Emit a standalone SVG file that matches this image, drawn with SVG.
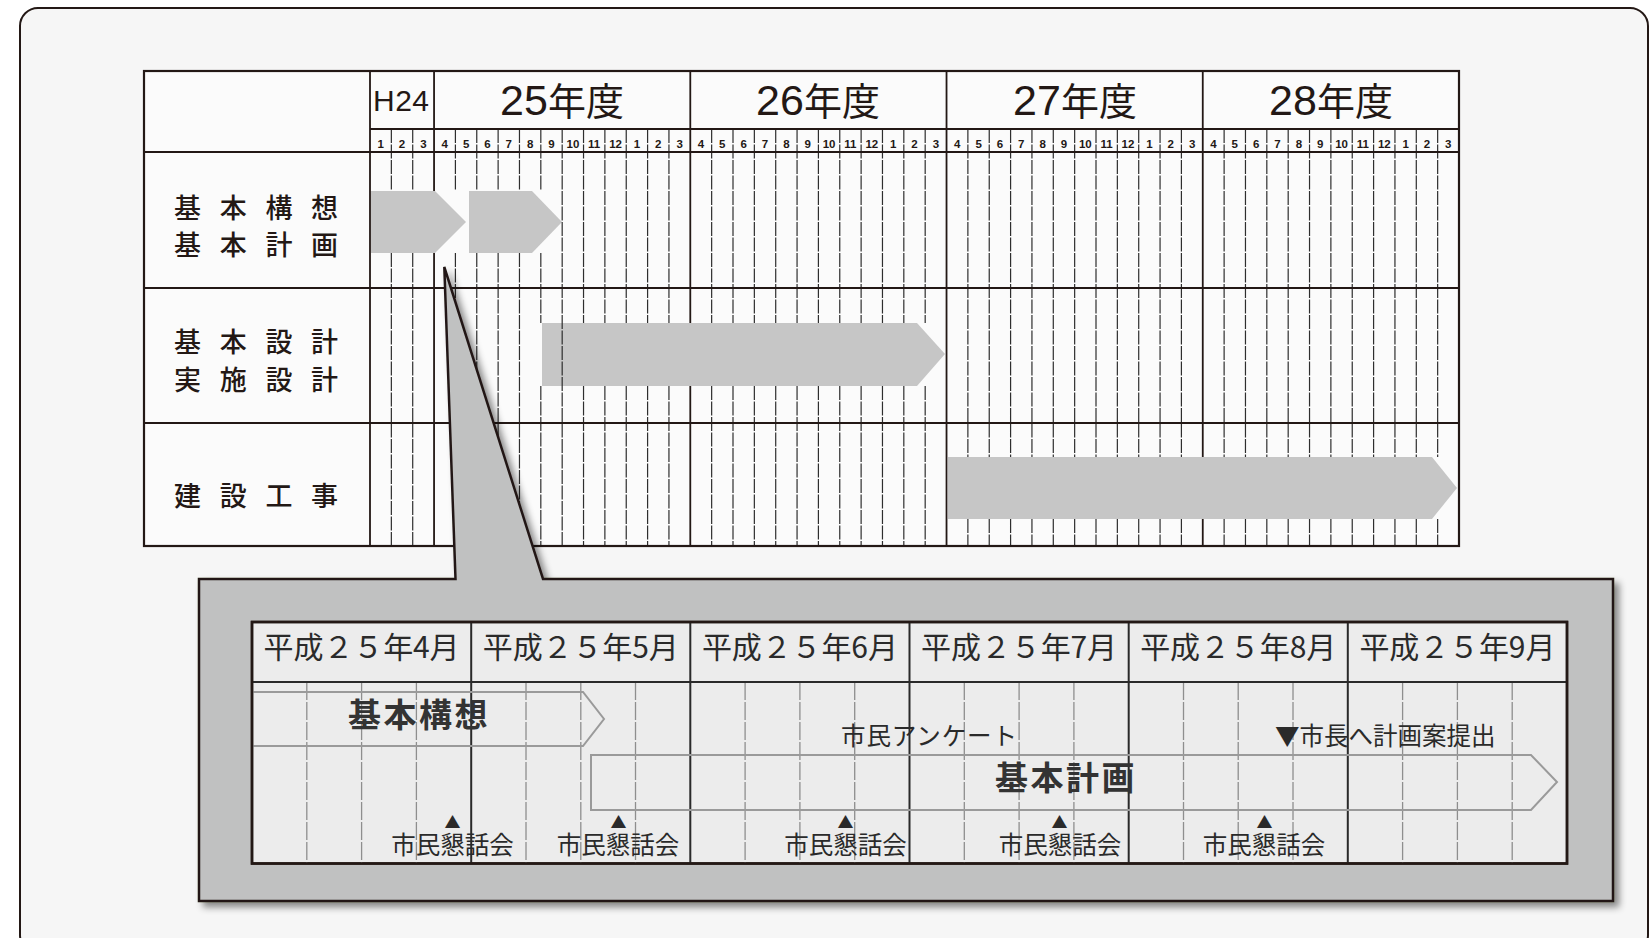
<svg xmlns="http://www.w3.org/2000/svg" width="1649" height="938" viewBox="0 0 1649 938">
<defs>
<style>
.frame{fill:#f6f6f6;stroke:#231815;stroke-width:2}
.tbl{fill:#fbfbfb;stroke:#231815;stroke-width:2}
.hl{stroke:#231815;stroke-width:1.8;fill:none}
.ml{stroke:#2e2e2e;stroke-width:1.2;fill:none;stroke-dasharray:14 1.5}
.yl{stroke:#231815;stroke-width:1.8;fill:none}
.bar{fill:#c6c6c6;stroke:none}
.mn{font-family:"Liberation Sans",sans-serif;font-weight:bold;font-size:11.5px;fill:#231815;text-anchor:middle}
.yr{font-family:"Liberation Sans","Noto Sans CJK JP",sans-serif;font-size:43px;fill:#231815;text-anchor:middle}
.yk{font-family:"Noto Sans CJK JP",sans-serif;font-size:38px}
.rl{font-family:"Noto Sans CJK JP",sans-serif;font-size:27px;font-weight:500;letter-spacing:18.7px;fill:#231815}
.panel{fill:#c0c1c1;stroke:#231815;stroke-width:2.5;stroke-linejoin:miter}
.itbl{fill:#ececec;stroke:#231815;stroke-width:2.5}
.wk{stroke:#8e8e8e;stroke-width:1.3;fill:none;stroke-dasharray:18 2}
.mb{stroke:#2a2a2a;stroke-width:2;fill:none}
.ibar{fill:none;stroke:#9a9a9a;stroke-width:2}
.hd{font-family:"Noto Sans CJK JP",sans-serif;font-size:30px;fill:#2a2a2a;text-anchor:middle}
.bl{font-family:"Noto Sans CJK JP",sans-serif;font-size:33px;font-weight:bold;letter-spacing:2.5px;fill:#333}
.sm{font-family:"Noto Sans CJK JP",sans-serif;font-size:24.5px;fill:#2a2a2a}
.kd{font-family:"Noto Sans CJK JP",sans-serif;font-size:24.5px;fill:#2a2a2a;text-anchor:middle}
.tri{font-size:16px}
</style>
<filter id="sh" x="-5%" y="-10%" width="110%" height="125%">
<feDropShadow dx="5" dy="5" stdDeviation="3.5" flood-color="#000" flood-opacity="0.45"/>
</filter>
</defs>

<rect class="frame" x="20" y="8" width="1628" height="945" rx="18"/>

<g id="schedule-table">
<rect class="tbl" x="144" y="71" width="1315" height="475"/>
<g id="bar-kihon-kousou"><polygon class="bar" points="371,191 435,191 466,222 435,253 371,253"/></g>
<g id="bar-kihon-keikaku"><polygon class="bar" points="469,191 532,191 562,222 532,253 469,253"/></g>
<g id="bar-sekkei"><polygon class="bar" points="542,323 917,323 945,354 917,386 542,386"/></g>
<g id="bar-kouji"><polygon class="bar" points="948,457 1432,457 1457,488 1432,519 948,519"/></g>
<path class="ml" d="M391.35,129V191 M412.71,129V191 M391.35,253V546 M412.71,253V546 M455.41,129V191 M455.41,253V546 M476.76,129V191 M476.76,253V546 M498.12,129V191 M498.12,253V546 M519.47,129V191 M519.47,253V546 M540.82,129V191 M540.82,253V323 M540.82,386V546 M562.18,129V546 M583.53,129V323 M583.53,386V546 M604.88,129V323 M604.88,386V546 M626.24,129V323 M626.24,386V546 M647.59,129V323 M647.59,386V546 M668.94,129V323 M668.94,386V546 M711.65,129V323 M711.65,386V546 M733,129V323 M733,386V546 M754.35,129V323 M754.35,386V546 M775.71,129V323 M775.71,386V546 M797.06,129V323 M797.06,386V546 M818.41,129V323 M818.41,386V546 M839.76,129V323 M839.76,386V546 M861.12,129V323 M861.12,386V546 M882.47,129V323 M882.47,386V546 M903.82,129V323 M903.82,386V546 M925.18,129V323 M925.18,386V546 M967.88,129V457 M967.88,519V546 M989.24,129V457 M989.24,519V546 M1010.59,129V457 M1010.59,519V546 M1031.94,129V457 M1031.94,519V546 M1053.29,129V457 M1053.29,519V546 M1074.65,129V457 M1074.65,519V546 M1096,129V457 M1096,519V546 M1117.35,129V457 M1117.35,519V546 M1138.71,129V457 M1138.71,519V546 M1160.06,129V457 M1160.06,519V546 M1181.41,129V457 M1181.41,519V546 M1224.12,129V457 M1224.12,519V546 M1245.47,129V457 M1245.47,519V546 M1266.82,129V457 M1266.82,519V546 M1288.18,129V457 M1288.18,519V546 M1309.53,129V457 M1309.53,519V546 M1330.88,129V457 M1330.88,519V546 M1352.24,129V457 M1352.24,519V546 M1373.59,129V457 M1373.59,519V546 M1394.94,129V457 M1394.94,519V546 M1416.29,129V457 M1416.29,519V546 M1437.65,129V457 M1437.65,519V546"/>
<path class="yl" d="M434.06,71V191 M434.06,253V546 M690.29,71V323 M690.29,386V546 M946.53,71V546 M1202.76,71V457 M1202.76,519V546"/>
<path class="hl" d="M370,71V546 M370,129H1459 M144,152H1459 M144,288H1459 M144,423H1459"/>
<rect x="144" y="71" width="1315" height="475" fill="none" stroke="#231815" stroke-width="2.2"/>
<text x="373" y="111" font-family="Liberation Sans,sans-serif" font-size="30" fill="#231815" textLength="56">H24</text>
<text class="yr" x="562" y="115">25<tspan class="yk">年度</tspan></text>
<text class="yr" x="818" y="115">26<tspan class="yk">年度</tspan></text>
<text class="yr" x="1075" y="115">27<tspan class="yk">年度</tspan></text>
<text class="yr" x="1331" y="115">28<tspan class="yk">年度</tspan></text>
<g class="mn">
<text x="380.7" y="148">1</text><text x="402" y="148">2</text><text x="423.4" y="148">3</text>
<text x="444.7" y="148">4</text><text x="466.1" y="148">5</text><text x="487.4" y="148">6</text><text x="508.8" y="148">7</text><text x="530.1" y="148">8</text><text x="551.5" y="148">9</text><text x="572.9" y="148">10</text><text x="594.2" y="148">11</text><text x="615.6" y="148">12</text><text x="636.9" y="148">1</text><text x="658.3" y="148">2</text><text x="679.6" y="148">3</text>
<text x="701" y="148">4</text><text x="722.3" y="148">5</text><text x="743.7" y="148">6</text><text x="765" y="148">7</text><text x="786.4" y="148">8</text><text x="807.7" y="148">9</text><text x="829.1" y="148">10</text><text x="850.4" y="148">11</text><text x="871.8" y="148">12</text><text x="893.1" y="148">1</text><text x="914.5" y="148">2</text><text x="935.9" y="148">3</text>
<text x="957.2" y="148">4</text><text x="978.6" y="148">5</text><text x="999.9" y="148">6</text><text x="1021.3" y="148">7</text><text x="1042.6" y="148">8</text><text x="1064" y="148">9</text><text x="1085.3" y="148">10</text><text x="1106.7" y="148">11</text><text x="1128" y="148">12</text><text x="1149.4" y="148">1</text><text x="1170.7" y="148">2</text><text x="1192.1" y="148">3</text>
<text x="1213.4" y="148">4</text><text x="1234.8" y="148">5</text><text x="1256.1" y="148">6</text><text x="1277.5" y="148">7</text><text x="1298.9" y="148">8</text><text x="1320.2" y="148">9</text><text x="1341.6" y="148">10</text><text x="1362.9" y="148">11</text><text x="1384.3" y="148">12</text><text x="1405.6" y="148">1</text><text x="1427" y="148">2</text><text x="1448.3" y="148">3</text>
</g>
<g id="label-kousou"><text class="rl" x="174" y="218">基本構想</text><text class="rl" x="174" y="255">基本計画</text></g>
<g id="label-sekkei"><text class="rl" x="174" y="352">基本設計</text><text class="rl" x="174" y="390">実施設計</text></g>
<g id="label-kouji"><text class="rl" x="174" y="506">建設工事</text></g>
</g>

<g id="callout-panel">
<path class="panel" filter="url(#sh)" d="M199,579 L455.5,579 L444.3,267 L543,579 L1613,579 L1613,901 L199,901 Z"/>
<rect class="itbl" x="252" y="622" width="1315" height="241.5"/>
<path class="wk" d="M306.8,682V863 M361.6,682V863 M416.4,682V863 M526,682V863 M580.8,682V863 M635.5,682V863 M745.1,682V863 M799.9,682V863 M854.7,682V863 M964.3,682V863 M1019.1,682V863 M1073.9,682V863 M1183.5,682V863 M1238.2,682V863 M1293,682V863 M1402.6,682V863 M1457.4,682V863 M1512.2,682V863"/>
<path class="mb" d="M471.2,622V863 M690.3,622V863 M909.5,622V863 M1128.7,622V863 M1347.8,622V863 M252,682H1567"/>
<g id="ibar-kousou"><polyline class="ibar" points="253,692 583,692 604,719 583,746 253,746"/></g>
<g id="ibar-keikaku"><polygon class="ibar" points="591,755 1531,755 1557,782 1531,810 591,810"/></g>
<rect x="252" y="622" width="1315" height="241.5" fill="none" stroke="#231815" stroke-width="2.5"/>
<g class="hd">
<text x="361.6" y="658" textLength="196">平成２５年4月</text>
<text x="580.8" y="658" textLength="196">平成２５年5月</text>
<text x="799.9" y="658" textLength="196">平成２５年6月</text>
<text x="1019.1" y="658" textLength="196">平成２５年7月</text>
<text x="1238.2" y="658" textLength="196">平成２５年8月</text>
<text x="1457.4" y="658" textLength="196">平成２５年9月</text>
</g>
<text class="bl" x="348" y="727">基本構想</text>
<text class="bl" x="995" y="790">基本計画</text>
<text class="sm" x="841" y="745" textLength="176">市民アンケート</text>
<text class="sm" x="1275" y="745">▼市長へ計画案提出</text>
<g id="kondankai">
<text class="kd" x="452.5" y="828"><tspan class="tri">▲</tspan><tspan x="452.5" dy="26">市民懇話会</tspan></text>
<text class="kd" x="618.5" y="828"><tspan class="tri">▲</tspan><tspan x="618" dy="26">市民懇話会</tspan></text>
<text class="kd" x="845.5" y="828"><tspan class="tri">▲</tspan><tspan x="845.5" dy="26">市民懇話会</tspan></text>
<text class="kd" x="1059.5" y="828"><tspan class="tri">▲</tspan><tspan x="1060" dy="26">市民懇話会</tspan></text>
<text class="kd" x="1264.5" y="828"><tspan class="tri">▲</tspan><tspan x="1264" dy="26">市民懇話会</tspan></text>
</g>
</g>
</svg>
